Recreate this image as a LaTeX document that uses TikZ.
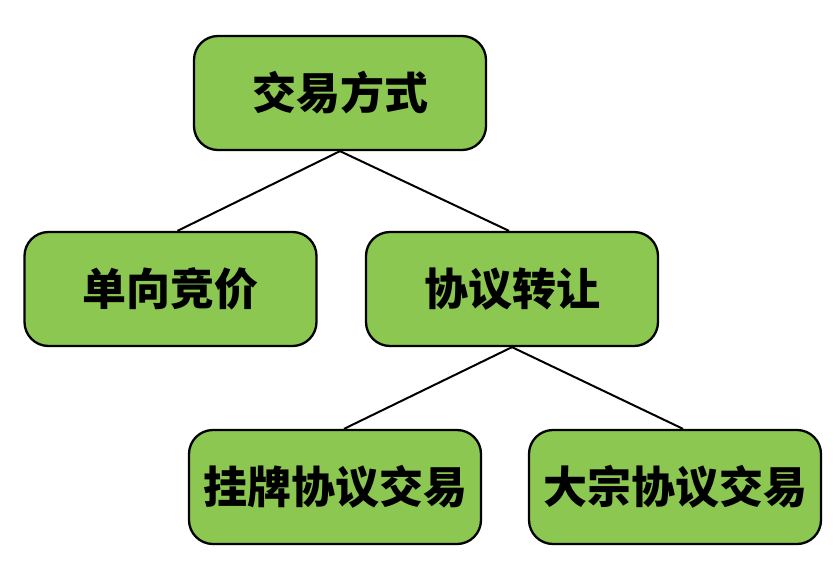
\documentclass[tikz,border=0pt]{standalone}
\usepackage{fontspec}
\newfontfamily\cjk{Noto Sans CJK SC}
\definecolor{boxgreen}{RGB}{140,199,82}
\begin{document}
\begin{tikzpicture}[x=1pt,y=-1pt,
  box/.style={draw=black, line width=2.3pt, fill=boxgreen, rounded corners=24pt,
    minimum width=292pt, minimum height=114pt, inner sep=0pt,
    font=\cjk\bfseries\fontsize{44}{50}\selectfont},
  link/.style={draw=black, line width=2pt}]
\useasboundingbox (0,0) rectangle (834,570);
\node[box] (top) at (340,93) {交易方式};
\node[box] (dan) at (170.5,289) {单向竞价};
\node[box] (xie) at (512,289) {协议转让};
\node[box] (gua) at (335,487) {挂牌协议交易};
\node[box] (da) at (675,487) {大宗协议交易};
\coordinate (a1) at ([xshift=7pt]dan.north);
\coordinate (a2) at ([xshift=-3pt]xie.north);
\coordinate (b1) at ([xshift=9pt]gua.north);
\coordinate (b2) at ([xshift=8pt]da.north);
\draw[link] (top.south) -- (a1);
\draw[link] (top.south) -- (a2);
\draw[link] (xie.south) -- (b1);
\draw[link] (xie.south) -- (b2);
\end{tikzpicture}
\end{document}
